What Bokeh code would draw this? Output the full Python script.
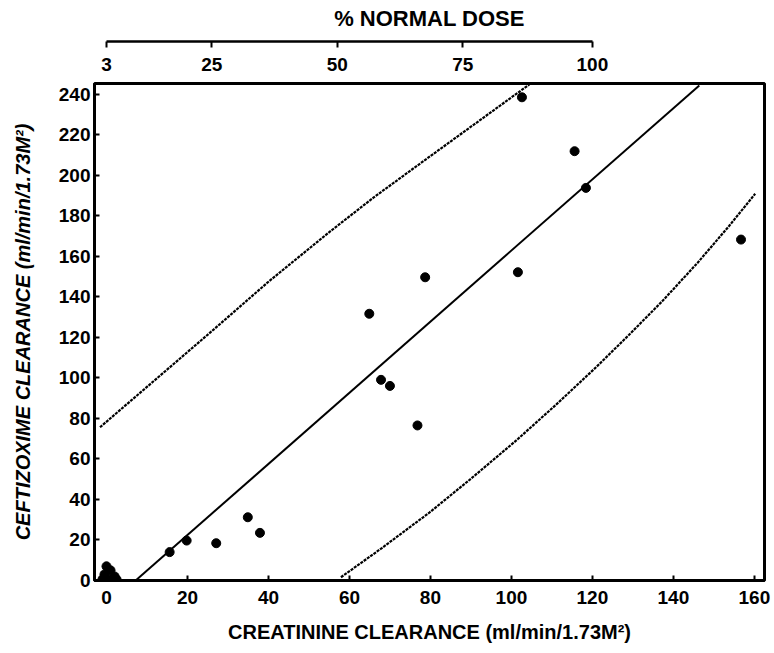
from bokeh.plotting import figure
from bokeh.models import LinearAxis, FixedTicker, Range1d
from bokeh.embed import file_html
from bokeh.resources import INLINE

# ---- data ----
# patients: creatinine clearance vs ceftizoxime clearance (ml/min/1.73M2)
crcl = [102.6, 115.6, 118.4, 156.7, 101.6, 78.7, 64.9, 67.8, 70.0, 76.8,
        34.9, 37.9, 27.1, 19.8, 15.6, 0.0, 1.0, -0.5, 2.0, 0.5, 2.5, -1.0]
cefz = [238.4, 211.8, 193.7, 168.2, 152.1, 149.6, 131.6, 99.0, 96.0, 76.5,
        31.2, 23.5, 18.4, 19.7, 14.0, 7.0, 5.0, 3.0, 2.0, 0.5, 0.5, 0.5]

# regression line
reg_x = [7.2, 146.4]
reg_y = [0.0, 244.2]

# confidence limits (dotted curves)
upper_x = [-1.6, 26.7, 40.0, 55.1, 66.0, 78.0, 104.4]
upper_y = [75.6, 124.2, 147.4, 172.0, 189.0, 206.5, 244.7]
lower_x = [57.9, 68.0, 79.8, 90.0, 101.2, 111.0, 120.9, 129.0, 137.4, 146.0, 153.8, 160.2]
lower_y = [1.6, 16.0, 33.6, 50.2, 69.1, 86.7, 105.2, 121.1, 138.1, 156.8, 175.0, 190.8]

# axes
x_ticks = [0, 20, 40, 60, 80, 100, 120, 140, 160]
y_ticks = [0, 20, 40, 60, 80, 100, 120, 140, 160, 180, 200, 220, 240]
dose_crcl = [0, 26, 57, 88, 120]
dose_labels = ["3", "25", "50", "75", "100"]

FONT = "Liberation Sans"

p = figure(frame_width=670, frame_height=497,
           x_range=Range1d(-2.96, 162.5), y_range=Range1d(0, 245.2),
           output_backend="svg", toolbar_location=None,
           min_border_left=94, min_border_right=8,
           min_border_top=83, min_border_bottom=70)
p.grid.visible = False
p.outline_line_color = "black"
p.outline_line_width = 3
p.background_fill_color = "white"
p.border_fill_color = "white"

# bottom axis
xa = p.xaxis[0]
xa.ticker = FixedTicker(ticks=x_ticks)
xa.axis_line_width = 3
xa.major_tick_in = 5
xa.major_tick_out = 0
xa.major_tick_line_width = 2
xa.minor_tick_line_color = None
xa.major_label_standoff = 10
xa.major_label_text_font = FONT
xa.major_label_text_font_style = "bold"
xa.major_label_text_font_size = "19px"
xa.major_label_text_color = "black"
xa.axis_label = "CREATININE CLEARANCE (ml/min/1.73M²)"
xa.axis_label_standoff = 14
xa.axis_label_text_font = FONT
xa.axis_label_text_font_style = "bold"
xa.axis_label_text_font_size = "20px"
xa.axis_label_text_color = "black"

# left axis
ya = p.yaxis[0]
ya.ticker = FixedTicker(ticks=y_ticks)
ya.axis_line_width = 3
ya.major_tick_in = 5
ya.major_tick_out = 0
ya.major_tick_line_width = 2
ya.minor_tick_line_color = None
ya.major_label_standoff = 4
ya.major_label_text_font = FONT
ya.major_label_text_font_style = "bold"
ya.major_label_text_font_size = "19px"
ya.major_label_text_color = "black"
ya.axis_label = "CEFTIZOXIME CLEARANCE (ml/min/1.73M²)"
ya.axis_label_standoff = 22
ya.axis_label_text_font = FONT
ya.axis_label_text_font_style = "bold italic"
ya.axis_label_text_font_size = "20px"
ya.axis_label_text_color = "black"

# top "% normal dose" scale: labels row, gap, then line with title
dose_text = LinearAxis(ticker=FixedTicker(ticks=dose_crcl),
                       major_label_overrides={k: v for k, v in zip(dose_crcl, dose_labels)},
                       axis_line_color=None, major_tick_line_color=None,
                       minor_tick_line_color=None, major_tick_in=0, major_tick_out=0,
                       major_label_standoff=13, major_label_text_font=FONT,
                       major_label_text_font_style="bold",
                       major_label_text_font_size="19px",
                       major_label_text_color="black")
spacer = LinearAxis(ticker=FixedTicker(ticks=dose_crcl), axis_line_color=None,
                    major_tick_out=13, major_tick_in=0, major_tick_line_color=None,
                    minor_tick_line_color=None, major_label_standoff=0,
                    major_label_text_color=None, major_label_text_font_size="1px")
dose_axis = LinearAxis(ticker=FixedTicker(ticks=dose_crcl), bounds=(0, 120),
                       axis_line_width=2.5, major_tick_in=6, major_tick_out=0,
                       major_tick_line_width=2, minor_tick_line_color=None,
                       major_label_text_color=None, major_label_text_font_size="1px",
                       major_label_standoff=0,
                       axis_label="% NORMAL DOSE", axis_label_standoff=11,
                       axis_label_text_font=FONT, axis_label_text_font_style="bold",
                       axis_label_text_font_size="22px",
                       axis_label_text_color="black")
p.add_layout(dose_text, "above")
p.add_layout(spacer, "above")
p.add_layout(dose_axis, "above")

# glyphs
p.line(reg_x, reg_y, line_color="black", line_width=2)
p.line(upper_x, upper_y, line_color="black", line_width=2.2, line_dash="3 1")
p.line(lower_x, lower_y, line_color="black", line_width=2.2, line_dash="3 1")
p.scatter(crcl, cefz, size=9, color="black")

open("out.html", "w").write(file_html(p, INLINE))
